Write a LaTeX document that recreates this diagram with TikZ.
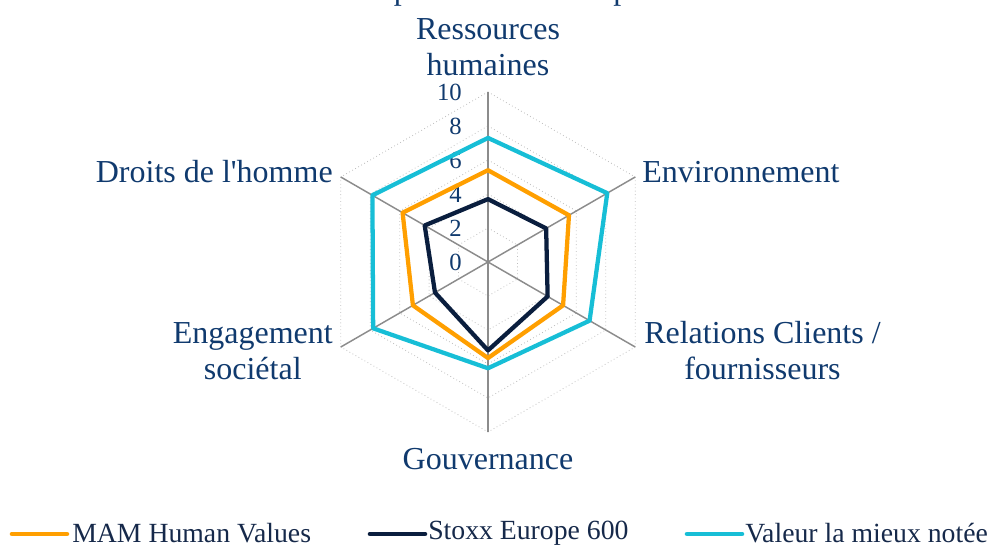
\documentclass[tikz,border=0pt]{standalone}
\usepackage{fontspec}
\setmainfont{Liberation Serif}
\definecolor{txtblue}{HTML}{103A6E}
\definecolor{legblue}{HTML}{16294A}
\definecolor{mamorange}{HTML}{FF9F00}
\definecolor{stoxxnavy}{HTML}{0A1E3E}
\definecolor{bestcyan}{HTML}{17BED6}
\definecolor{spokegray}{HTML}{8C8C8C}
\definecolor{gridgray}{HTML}{BDBDBD}
\tikzset{
  axislabel/.style={text=txtblue, font=\fontsize{24}{27}\selectfont, inner sep=0pt, align=center},
  ticklabel/.style={text=txtblue, font=\fontsize{18.5}{20}\selectfont, inner sep=0pt, anchor=east},
  legendtext/.style={text=legblue, font=\fontsize{20.8}{22}\selectfont, inner sep=0pt, anchor=west},
  spoke/.style={draw=spokegray, line width=1.1pt},
  gridline/.style={draw=gridgray, line width=0.6pt, dotted},
  series/.style={line width=3.2pt, line join=round},
  legendline/.style={line width=3.4pt, line cap=round},
}
\newcommand{\radarpoly}[7]{\draw[series,#1] (90:{17*#2}) -- (30:{17*#3}) -- (-30:{17*#4}) -- (-90:{17*#5}) -- (210:{17*#6}) -- (150:{17*#7}) -- cycle;}
\begin{document}
\begin{tikzpicture}[x=0.75pt,y=0.75pt]
\useasboundingbox (-488,-285) rectangle (504,262);
% title (cut off at the top edge, as in the reference)
\node[text=txtblue, font=\fontsize{24}{27}\selectfont, inner sep=0pt, anchor=base east] (title) at (212,263) {Groupe vs Stoxx Europe 600};
% centre and axis ends
\coordinate (c) at (0,0);
\coordinate (a1) at (90:170);
\coordinate (a2) at (30:170);
\coordinate (a3) at (-30:170);
\coordinate (a4) at (-90:170);
\coordinate (a5) at (210:170);
\coordinate (a6) at (150:170);
% grid
\foreach \k in {2,4,6,8,10}{
  \draw[gridline] (90:{17*\k}) -- (30:{17*\k}) -- (-30:{17*\k}) -- (-90:{17*\k}) -- (210:{17*\k}) -- (150:{17*\k}) -- cycle;
}
% spokes
\foreach \a in {a1,a2,a3,a4,a5,a6}{ \draw[spoke] (c) -- (\a); }
% tick labels
\foreach \k in {0,2,4,6,8,10}{ \node[ticklabel] (t\k) at (-26,{17*\k}) {\k}; }
% series
\radarpoly{draw=mamorange}{5.4}{5.5}{5.1}{5.65}{5.1}{5.8}
\radarpoly{draw=stoxxnavy}{3.7}{3.95}{4.05}{5.2}{3.6}{4.3}
\radarpoly{draw=bestcyan}{7.3}{8.1}{6.9}{6.25}{7.8}{7.85}
% axis labels
\node[axislabel, anchor=center] (l1) at (0,214.5) {Ressources\\humaines};
\node[axislabel, anchor=west] (l2) at (154,89.5) {Environnement};
\node[axislabel, anchor=west] (l3) at (156,-88.5) {Relations Clients /\\fournisseurs};
\node[axislabel, anchor=center] (l4) at (0,-197) {Gouvernance};
\node[axislabel, anchor=east] (l5) at (-155,-89) {Engagement\\sociétal};
\node[axislabel, anchor=east] (l6) at (-155,90.5) {Droits de l\textquotesingle homme};
% legend
\coordinate (o1) at (-476,-272);
\coordinate (o2) at (-421,-272);
\draw[legendline, draw=mamorange] (o1) -- (o2);
\node[legendtext] (g1) at (-416,-271) {MAM Human Values};
\coordinate (n1) at (-118,-272);
\coordinate (n2) at (-63,-272);
\draw[legendline, draw=stoxxnavy] (n1) -- (n2);
\node[legendtext] (g2) at (-60,-271) {Stoxx Europe 600};
\coordinate (b1) at (199,-272);
\coordinate (b2) at (254,-272);
\draw[legendline, draw=bestcyan] (b1) -- (b2);
\node[legendtext] (g3) at (257,-271) {Valeur la mieux notée};
\end{tikzpicture}
\end{document}
